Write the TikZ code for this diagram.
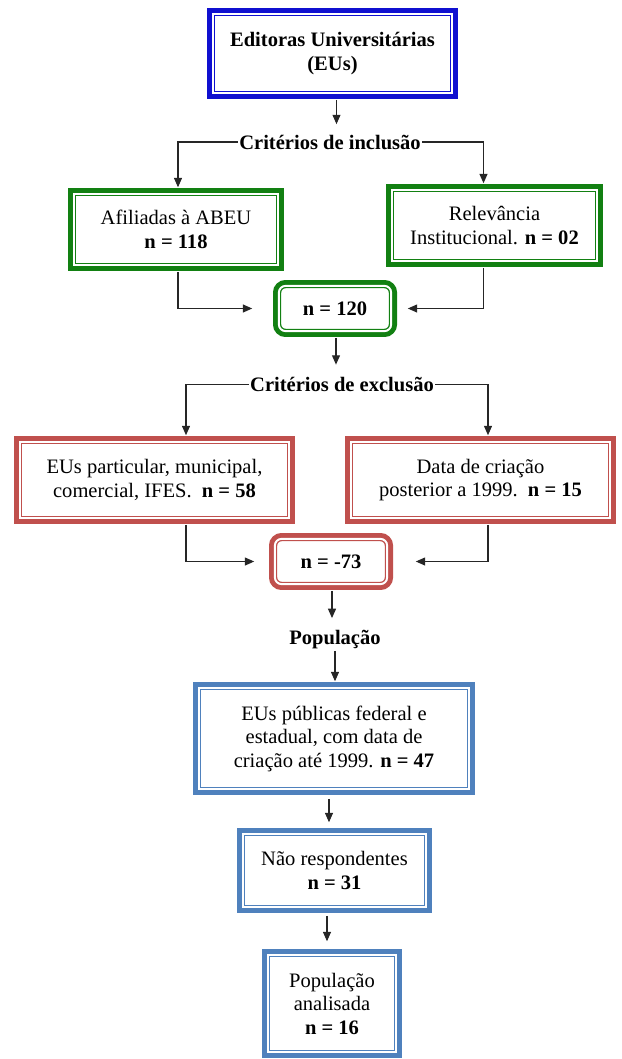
\documentclass[tikz,border=0pt]{standalone}
\usepackage{fontspec}
\setmainfont{Liberation Serif}
\usepackage{tikz}
\usetikzlibrary{arrows.meta,positioning,calc}

\definecolor{srcblue}{RGB}{16,16,208}
\definecolor{inclgreen}{RGB}{18,128,18}
\definecolor{exclred}{RGB}{192,80,77}
\definecolor{popblue}{RGB}{79,129,189}

\begin{document}
\begin{tikzpicture}[
    x=0.75pt, y=-0.75pt,
    >={Triangle[length=7pt, width=6pt]},
    dblbox/.style={rectangle, draw=#1, line width=1pt, double=white, double distance=1.5pt,
                   preaction={draw=#1, line width=8.8pt}, fill=white, inner sep=2pt,
                   align=center, font=\fontsize{15.4}{17.6}\selectfont},
    srcbox/.style={dblbox=srcblue, font=\fontsize{15.4}{17.6}\selectfont\bfseries},
    inclbox/.style={dblbox=inclgreen},
    exclbox/.style={dblbox=exclred},
    popbox/.style={dblbox=popblue},
    totalbox/.style={dblbox=#1, rounded corners=5pt},
    arr/.style={->, line width=0.8pt, draw=black!85},
    lbl/.style={font=\fontsize{15.4}{17.6}\selectfont\bfseries, inner sep=1pt}
  ]
    \useasboundingbox (0,0) rectangle (621,1059);

    %--- Boxes ---
    \node[srcbox, minimum width=179.4pt, minimum height=59.4pt] (eus) at (332.5,53.5)
      {Editoras Universitárias\\(EUs)};
    \node[lbl] (incl) at (330,142) {Critérios de inclusão};
    \node[inclbox, minimum width=153.2pt, minimum height=53.4pt] (afil) at (176,229.5)
      {Afiliadas à ABEU\\\textbf{n = 118}};
    \node[inclbox, minimum width=153.9pt, minimum height=53.4pt] (relev) at (494.5,225.5)
      {Relevância\\Institucional. \textbf{n = 02}};
    \node[totalbox=inclgreen, minimum width=84.2pt, minimum height=33.9pt] (n120) at (335,308.5)
      {\textbf{n = 120}};

    \node[lbl] (excl) at (342,384.5) {Critérios de exclusão};
    \node[exclbox, minimum width=201.9pt, minimum height=57.2pt] (partic) at (154.5,480)
      {EUs particular, municipal,\\comercial, IFES.\ \ \textbf{n = 58}};
    \node[exclbox, minimum width=194.4pt, minimum height=57.2pt] (data) at (480.5,480)
      {Data de criação\\posterior a 1999.\ \ \textbf{n = 15}};
    \node[totalbox=exclred, minimum width=84.2pt, minimum height=33.9pt] (n73) at (331,561.5)
      {\textbf{n = -73}};

    \node[lbl] (pop) at (335,640) {População};
    \node[popbox, minimum width=202.7pt, minimum height=75.9pt] (pub) at (334,738.5)
      {EUs públicas federal e\\estadual, com data de\\criação até 1999. \textbf{n = 47}};
    \node[popbox, minimum width=137.4pt, minimum height=54.9pt] (naoresp) at (334.5,870.5)
      {Não respondentes\\\textbf{n = 31}};
    \node[popbox, minimum width=96.2pt, minimum height=72.9pt] (popan) at (332,1003.5)
      {População\\analisada\\\textbf{n = 16}};

    %--- Inclusion arrows ---
    \draw[arr] ($(eus.south)+(4,6)$) -- ($(eus.south |- incl.north)+(4,-9)$);
    \draw[arr] (incl.west) -| ($(afil.north)+(2,-6)$);
    \draw[arr] (incl.east) -| ($(relev.north)+(-11,-6)$);
    \draw[arr] ($(afil.south)+(2,6)$) |- ($(n120.west)+(-26,0)$);
    \draw[arr] ($(relev.south)+(-11,6)$) |- ($(n120.east)+(16,0)$);

    %--- Exclusion arrows ---
    \draw[arr] ($(n120.south)+(1,6)$) -- ($(n120.south |- excl.north)+(1,-11)$);
    \draw[arr] (excl.west) -| ($(partic.north)+(31.5,-6)$);
    \draw[arr] (excl.east) -| ($(data.north)+(7.5,-6)$);
    \draw[arr] ($(partic.south)+(31.5,6)$) |- ($(n73.west)+(-20,0)$);
    \draw[arr] ($(data.south)+(7.5,6)$) |- ($(n73.east)+(28,0)$);

    %--- Population arrows ---
    \draw[arr] ($(n73.south)+(1,6)$) -- ($(n73.south |- pop.north)+(1,-11)$);
    \draw[arr] (pop.south) -- ($(pop.south |- pub.north)+(0,-6)$);
    \draw[arr] ($(pub.south)+(-5,9)$) -- ($(pub.south |- naoresp.north)+(-5,-11)$);
    \draw[arr] ($(naoresp.south)+(-7.5,8)$) -- ($(naoresp.south |- popan.north)+(-7.5,-13)$);
\end{tikzpicture}
\end{document}
